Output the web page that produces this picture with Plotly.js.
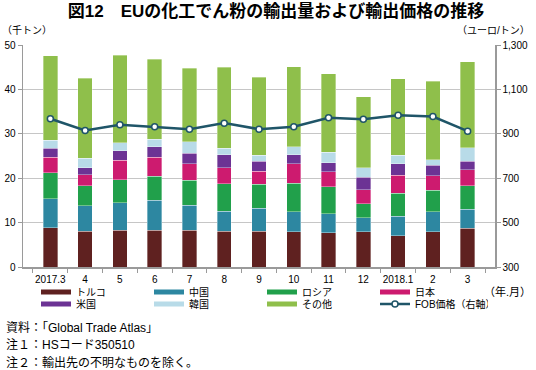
<!DOCTYPE html>
<html>
<head>
<meta charset="utf-8">
<script src="https://cdn.plot.ly/plotly-3.0.1.min.js"></script>
<style>
html,body{margin:0;padding:0;background:#fff;}
#chart{width:536px;height:370px;}
</style>
</head>
<body>
<div id="chart"></div>
<script>
// ---- data ----
var months = ["2017.3","4","5","6","7","8","9","10","11","12","2018.1","2","3"];
var turkey = [8.8, 8.1, 8.3, 8.3, 8.3, 8.0, 8.0, 7.9, 7.7, 7.9, 7.0, 7.9, 8.7];
var china  = [6.6, 5.7, 6.2, 6.7, 5.6, 4.6, 5.2, 4.5, 4.3, 3.2, 4.4, 4.6, 4.3];
var russia = [5.8, 4.5, 5.2, 5.4, 5.6, 6.2, 5.4, 6.5, 6.1, 3.1, 5.2, 4.8, 5.3];
var japan  = [3.5, 2.5, 4.4, 4.3, 3.7, 3.6, 3.0, 4.4, 3.3, 3.2, 4.1, 3.2, 3.6];
var usa    = [2.1, 1.5, 2.1, 2.4, 2.4, 2.9, 2.2, 2.0, 2.1, 2.8, 2.5, 2.4, 1.9];
var korea  = [1.8, 2.2, 1.8, 1.7, 2.6, 1.4, 1.4, 1.8, 2.4, 2.1, 2.0, 1.3, 3.1];
var other  = [19.0, 18.0, 19.7, 18.0, 16.6, 18.3, 17.5, 18.0, 17.6, 16.0, 17.2, 17.6, 19.3];
var fob    = [968, 915, 941, 932, 921, 948, 921, 932, 972, 966, 984, 978, 912];

var seriesNames  = ["トルコ","中国","ロシア","日本","米国","韓国","その他"];
var seriesValues = [turkey, china, russia, japan, usa, korea, other];
var seriesColors = ["#5f2120","#2d87a1","#21a04b","#cd1b6f","#6c3394","#b8dbe8","#8fbf4b"];
var lineName = "FOB価格（右軸）";
var lineColor = "#1f5568";

// ---- geometry helpers (plot area in px) ----
var W = 536, H = 370;
var PL = 23, PR = 495, PT = 45, PB = 267;
function px(x){ return (x - PL) / (PR - PL); }
function py(y){ return (PB - y) / (PB - PT); }

var FONT = "Liberation Sans, Noto Sans CJK JP, sans-serif";

var traces = [];
seriesNames.forEach(function(n, i){
  traces.push({
    type: "bar", x: months, y: seriesValues[i], name: n,
    marker: {color: seriesColors[i], line: {color: "rgba(255,255,255,0.7)", width: 0.5}},
    showlegend: false, hoverinfo: "x+y+name"
  });
});
// legend keys (wide bar swatches) for the stacked series
seriesNames.forEach(function(n, i){
  traces.push({
    type: "scatter", mode: "lines", x: [null], y: [null], name: n,
    line: {color: seriesColors[i], width: 5}, hoverinfo: "skip",
    legend: i < 4 ? "legend" : "legend2"
  });
});
traces.push({
  type: "scatter", mode: "lines+markers", x: months, y: fob, name: lineName,
  yaxis: "y2", line: {color: lineColor, width: 2.5},
  marker: {symbol: "circle", size: 6, color: "#ffffff", line: {color: lineColor, width: 1.5}},
  legend: "legend2"
});

var axisGray = "#9a9a9a";
var legendCommon = {orientation: "h", xanchor: "left", yanchor: "middle",
  entrywidth: 68, entrywidthmode: "pixels", bgcolor: "rgba(0,0,0,0)",
  font: {size: 10}, traceorder: "normal", itemclick: false, itemdoubleclick: false};
function legendAt(x, y){
  var o = {}; for (var k in legendCommon) o[k] = legendCommon[k];
  o.x = px(x); o.y = py(y); return o;
}

var layout = {
  width: W, height: H,
  margin: {l: PL, r: W - PR, t: PT, b: H - PB},
  paper_bgcolor: "#fff", plot_bgcolor: "#fff",
  font: {family: FONT, size: 10, color: "#000"},
  barmode: "stack", bargap: 0.587,
  title: {text: "<b>図12　EUの化工でん粉の輸出量および輸出価格の推移</b>",
          x: 276 / W, xref: "container", xanchor: "center",
          y: 1 - 11 / H, yref: "container", yanchor: "middle",
          font: {family: FONT, size: 17, color: "#000"}},
  xaxis: {type: "category", tickson: "boundaries", ticks: "outside", ticklen: 4,
          tickcolor: axisGray, showline: true, linecolor: axisGray, linewidth: 1.5,
          showgrid: false, tickangle: 0, ticklabelstandoff: 2,
          tickfont: {size: 10}, fixedrange: true},
  yaxis: {range: [0, 50], dtick: 10, tick0: 0, ticks: "outside", ticklen: 4,
          tickcolor: axisGray, showline: true, linecolor: axisGray, linewidth: 1.5,
          showgrid: true, gridcolor: "#c6c6c6", gridwidth: 1, zeroline: false,
          tickfont: {size: 10}, fixedrange: true},
  yaxis2: {range: [300, 1300], dtick: 200, tick0: 300, overlaying: "y", side: "right",
           ticks: "outside", ticklen: 4, tickcolor: axisGray, showline: true,
           linecolor: axisGray, linewidth: 1.5, showgrid: false, zeroline: false,
           separatethousands: true, tickfont: {size: 10}, fixedrange: true},
  legend: legendAt(36, 292),
  legend2: legendAt(36, 304),
  annotations: [
    {text: "（千トン）", xref: "paper", yref: "paper", x: px(0), y: py(31),
     xanchor: "left", yanchor: "middle", showarrow: false, font: {size: 10}},
    {text: "（ユーロ/トン）", xref: "paper", yref: "paper", x: px(532), y: py(31),
     xanchor: "right", yanchor: "middle", showarrow: false, font: {size: 10}},
    {text: "（年.月）", xref: "paper", yref: "paper", x: px(533), y: py(291),
     xanchor: "right", yanchor: "middle", showarrow: false, font: {size: 11}},
    {text: "資料：「Global Trade Atlas」", xref: "paper", yref: "paper", x: px(4), y: py(328),
     xanchor: "left", yanchor: "middle", showarrow: false, font: {size: 12}},
    {text: "注１：HSコード350510", xref: "paper", yref: "paper", x: px(4), y: py(345),
     xanchor: "left", yanchor: "middle", showarrow: false, font: {size: 12}},
    {text: "注２：輸出先の不明なものを除く。", xref: "paper", yref: "paper", x: px(4), y: py(363),
     xanchor: "left", yanchor: "middle", showarrow: false, font: {size: 12}}
  ]
};

Plotly.newPlot("chart", traces, layout, {displayModeBar: false, staticPlot: true});
</script>
</body>
</html>
